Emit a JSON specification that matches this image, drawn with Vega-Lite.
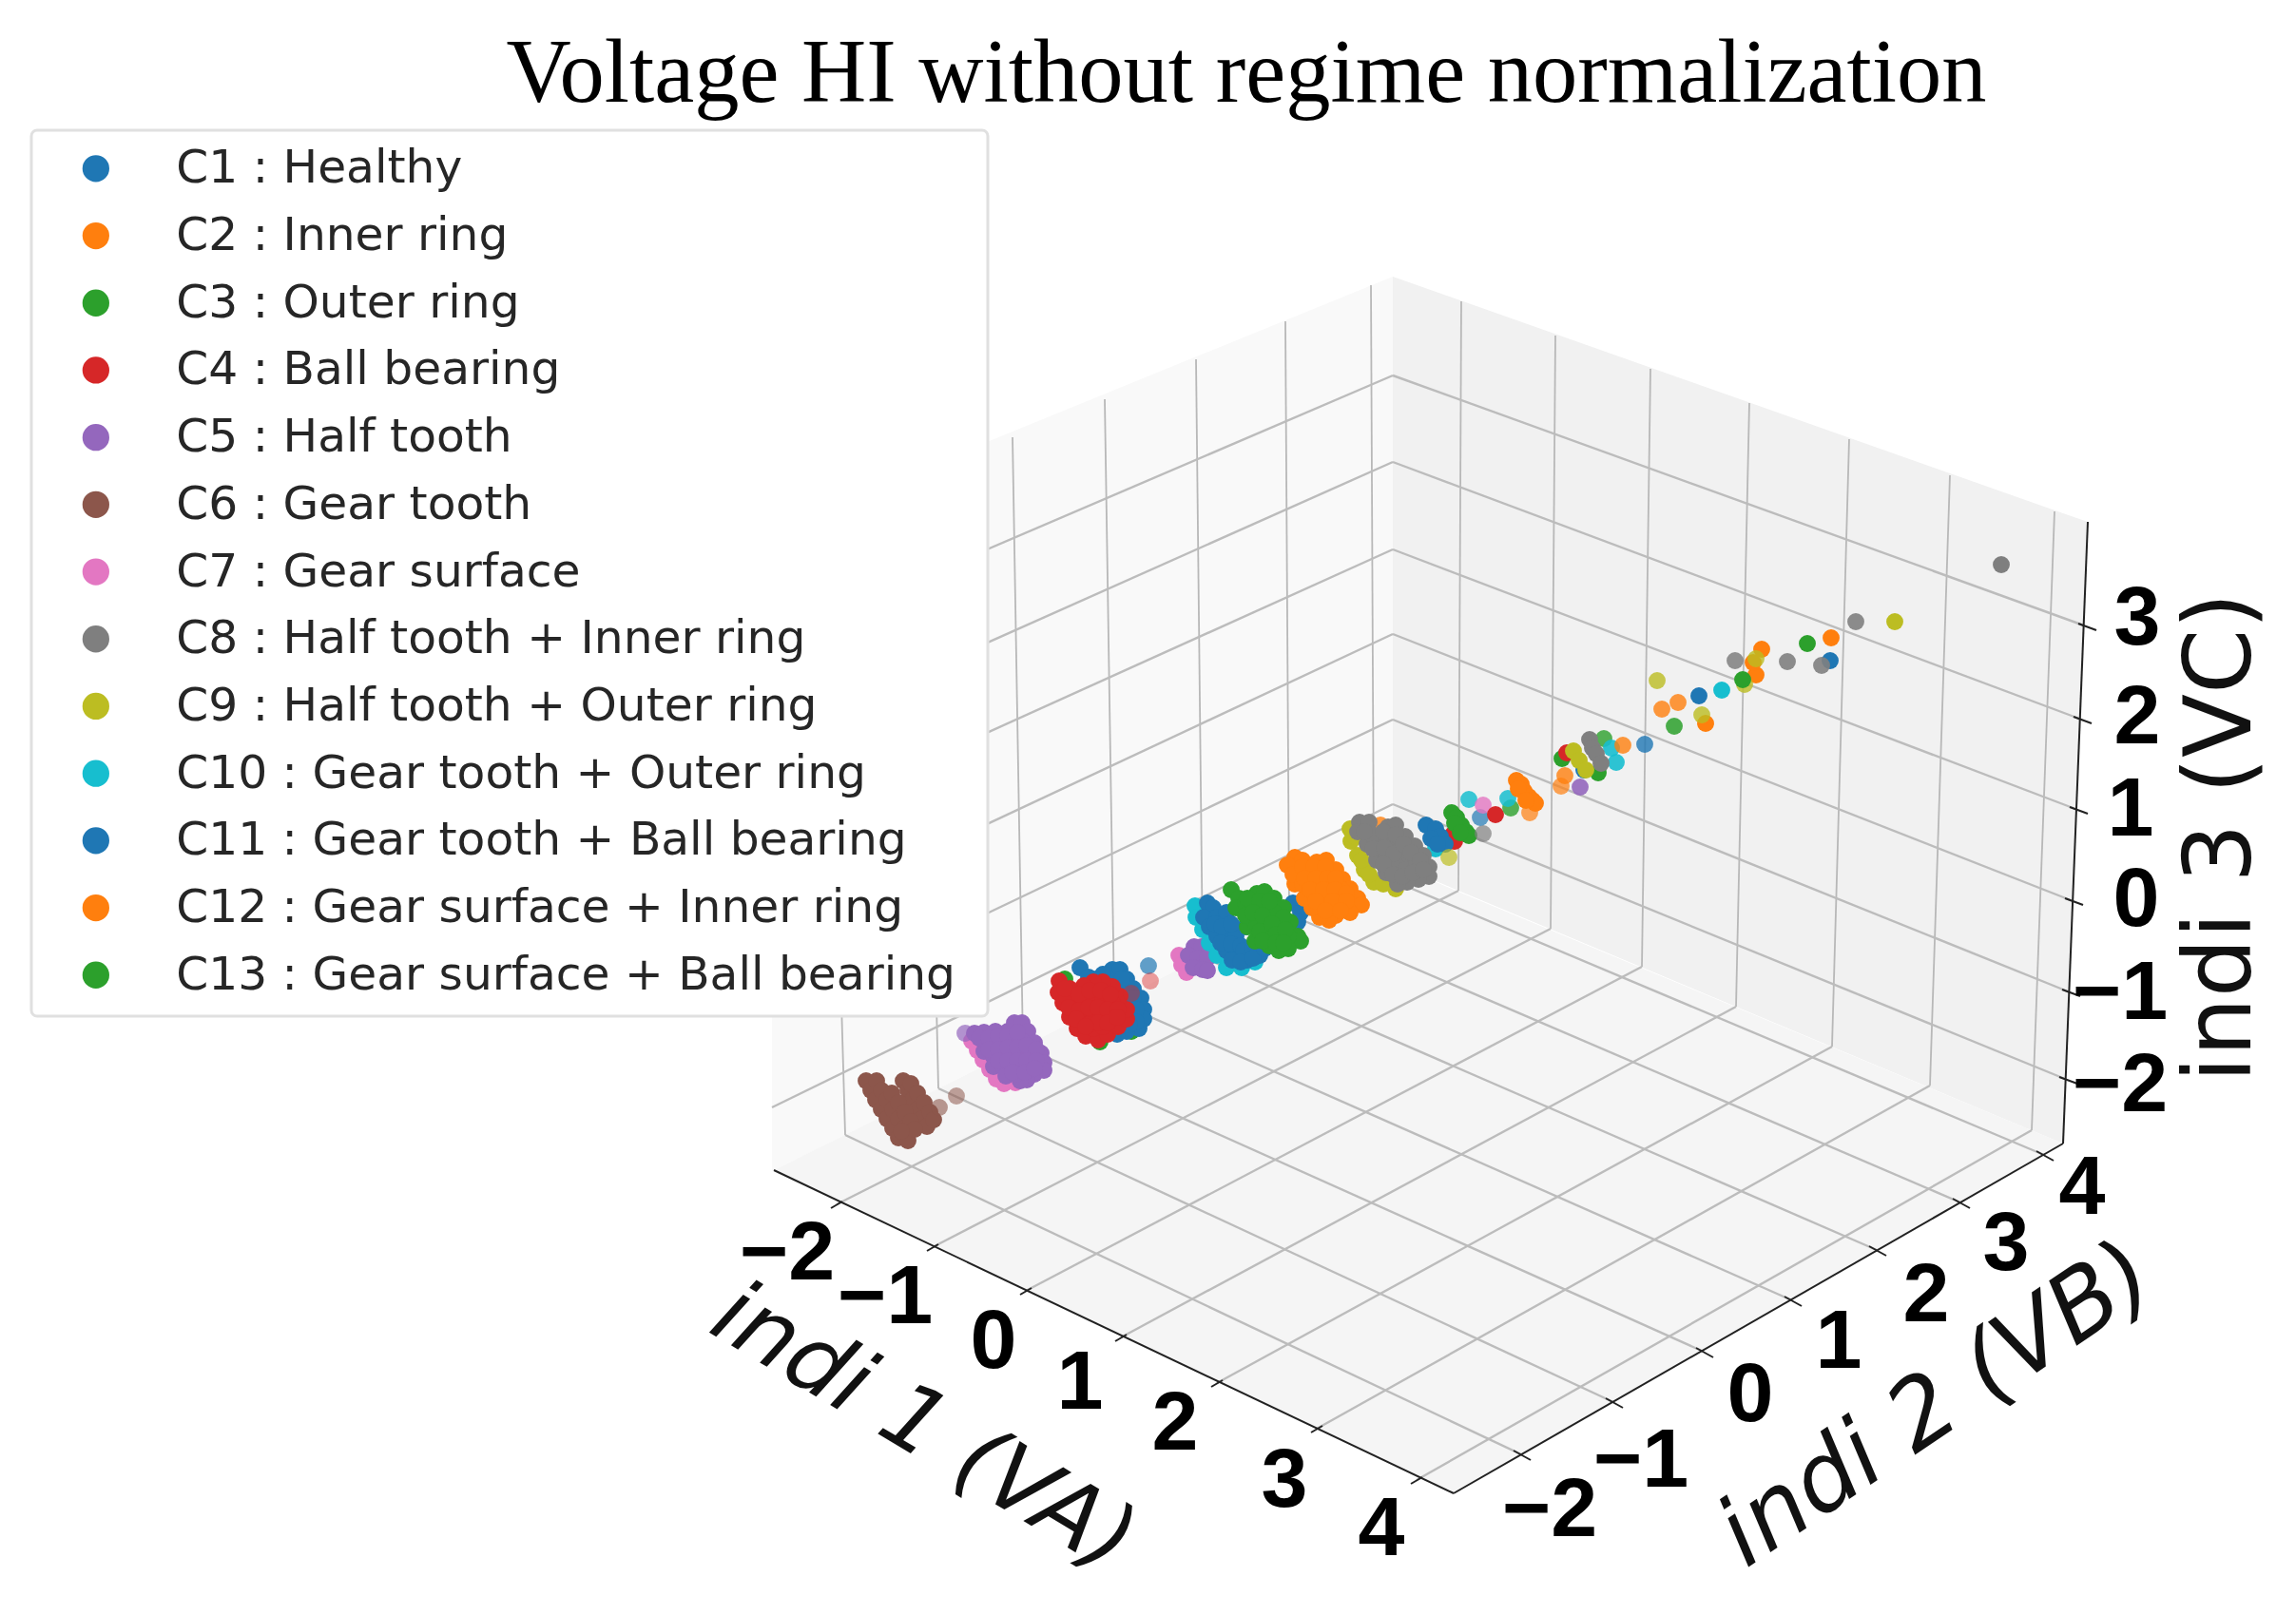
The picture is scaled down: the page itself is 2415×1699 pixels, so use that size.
{"$schema":"https://vega.github.io/schema/vega-lite/v6.json","width":2415,"height":1699,"padding":0,"autosize":{"type":"fit","contains":"padding"},"background":"white",
"config":{"view":{"stroke":null}},
"datasets":{
"classes":[{"c":"C1","name":"C1 : Healthy"},{"c":"C2","name":"C2 : Inner ring"},{"c":"C3","name":"C3 : Outer ring"},{"c":"C4","name":"C4 : Ball bearing"},{"c":"C5","name":"C5 : Half tooth"},{"c":"C6","name":"C6 : Gear tooth"},{"c":"C7","name":"C7 : Gear surface"},{"c":"C8","name":"C8 : Half tooth + Inner ring"},{"c":"C9","name":"C9 : Half tooth + Outer ring"},{"c":"C10","name":"C10 : Gear tooth + Outer ring"},{"c":"C11","name":"C11 : Gear tooth + Ball bearing"},{"c":"C12","name":"C12 : Gear surface + Inner ring"},{"c":"C13","name":"C13 : Gear surface + Ball bearing"}],
"leftWall":[{"u":812,"v":557,"v2":1232},{"u":1465,"v":291,"v2":908}],
"rightWall":[{"u":1465,"v":291,"v2":908},{"u":2170,"v":540,"v2":1203},{"u":2196,"v":549,"v2":549}],
"floor":[{"u":814,"v":1231,"v2":1231},{"u":1465,"v":908,"v2":1540},{"u":1529,"v":936,"v2":1571},{"u":2170,"v":1203,"v2":1203}],
"gridThick":[{"u":812,"v":675,"u2":1465,"v2":395},{"u":1465,"v":395,"u2":2192,"v2":658},{"u":812,"v":777,"u2":1465,"v2":486},{"u":1465,"v":486,"u2":2187,"v2":756},{"u":812,"v":873,"u2":1465,"v2":578},{"u":1465,"v":578,"u2":2183,"v2":851},{"u":812,"v":973,"u2":1465,"v2":667},{"u":1465,"v":667,"u2":2178,"v2":947},{"u":812,"v":1069,"u2":1465,"v2":757},{"u":1465,"v":757,"u2":2175,"v2":1043},{"u":812,"v":1165,"u2":1465,"v2":846},{"u":1465,"v":846,"u2":2172,"v2":1135},
{"u":880,"v":1267,"u2":1534,"v2":937},{"u":981,"v":1312,"u2":1631,"v2":977},{"u":1079,"v":1358,"u2":1727,"v2":1017},{"u":1179,"v":1407,"u2":1826,"v2":1059},{"u":1280,"v":1455,"u2":1927,"v2":1101},{"u":1385,"v":1503,"u2":2030,"v2":1142},{"u":1490,"v":1557,"u2":2137,"v2":1189},
{"u":1600,"v":1530,"u2":889,"v2":1194},{"u":1697,"v":1475,"u2":987,"v2":1145},{"u":1792,"v":1422,"u2":1076,"v2":1101},{"u":1885,"v":1368,"u2":1172,"v2":1053},{"u":1974,"v":1315,"u2":1265,"v2":1007},{"u":2062,"v":1265,"u2":1356,"v2":962},{"u":2150,"v":1215,"u2":1445,"v2":918}],
"gridThin":[{"u":1537,"v":317,"u2":1534,"v2":937},{"u":1636,"v":353,"u2":1631,"v2":977},{"u":1736,"v":388,"u2":1727,"v2":1017},{"u":1840,"v":424,"u2":1826,"v2":1059},{"u":1945,"v":462,"u2":1927,"v2":1101},{"u":2051,"v":500,"u2":2030,"v2":1142},{"u":2161,"v":538,"u2":2137,"v2":1189},
{"u":1442,"v":300,"u2":1445,"v2":918},{"u":1352,"v":338,"u2":1356,"v2":962},{"u":1258,"v":378,"u2":1265,"v2":1007},{"u":1162,"v":420,"u2":1172,"v2":1053},{"u":1065,"v":460,"u2":1076,"v2":1101},{"u":972,"v":491,"u2":987,"v2":1145},{"u":870,"v":532,"u2":889,"v2":1194}],
"axes":[{"u":814,"v":1231,"u2":1529,"v2":1571},{"u":1529,"v":1571,"u2":2170,"v2":1203},{"u":2170,"v":1203,"u2":2196,"v2":549},
{"u":874,"v":1271,"u2":886,"v2":1264},{"u":975,"v":1316,"u2":987,"v2":1309},{"u":1073,"v":1362,"u2":1085,"v2":1355},{"u":1173,"v":1411,"u2":1185,"v2":1404},{"u":1274,"v":1459,"u2":1286,"v2":1452},{"u":1379,"v":1507,"u2":1391,"v2":1500},{"u":1484,"v":1561,"u2":1496,"v2":1554},
{"u":1592,"v":1526,"u2":1610,"v2":1536},{"u":1689,"v":1471,"u2":1707,"v2":1481},{"u":1784,"v":1418,"u2":1802,"v2":1428},{"u":1877,"v":1364,"u2":1895,"v2":1374},{"u":1966,"v":1311,"u2":1984,"v2":1321},{"u":2054,"v":1261,"u2":2072,"v2":1271},{"u":2142,"v":1211,"u2":2160,"v2":1221},
{"u":2186,"v":656,"u2":2205,"v2":663},{"u":2181,"v":754,"u2":2200,"v2":761},{"u":2177,"v":849,"u2":2196,"v2":856},{"u":2172,"v":945,"u2":2191,"v2":952},{"u":2169,"v":1041,"u2":2188,"v2":1048},{"u":2166,"v":1133,"u2":2185,"v2":1140}],
"tickLabels":[{"t":"−2","u":828,"v":1320},{"t":"−1","u":931,"v":1366},{"t":"0","u":1045,"v":1413},{"t":"1","u":1136,"v":1456},{"t":"2","u":1236,"v":1499},{"t":"3","u":1351,"v":1559},{"t":"4","u":1453,"v":1610},
{"t":"−2","u":1630,"v":1590},{"t":"−1","u":1726,"v":1538},{"t":"0","u":1841,"v":1469},{"t":"1","u":1934,"v":1413},{"t":"2","u":2026,"v":1364},{"t":"3","u":2110,"v":1310},{"t":"4","u":2190,"v":1251},
{"t":"3","u":2248,"v":652},{"t":"2","u":2248,"v":756},{"t":"1","u":2241,"v":853},{"t":"0","u":2247,"v":948},{"t":"−1","u":2230,"v":1046},{"t":"−2","u":2230,"v":1143}],
"legendBox":[{"u":33,"v":137,"u2":1039,"v2":1069}],
"points":[
{"u":911,"v":1137,"c":"C6","d":1},{"u":916,"v":1147,"c":"C6","d":1},{"u":921,"v":1157,"c":"C6","d":1},{"u":927,"v":1167,"c":"C6","d":1},{"u":933,"v":1177,"c":"C6","d":1},{"u":939,"v":1187,"c":"C6","d":1},{"u":945,"v":1197,"c":"C6","d":1},{"u":955,"v":1200,"c":"C6","d":1},{"u":922,"v":1137,"c":"C6","d":1},{"u":927,"v":1147,"c":"C6","d":1},{"u":933,"v":1157,"c":"C6","d":1},{"u":939,"v":1167,"c":"C6","d":1},{"u":945,"v":1177,"c":"C6","d":1},{"u":951,"v":1187,"c":"C6","d":1},{"u":950,"v":1137,"c":"C6","d":1},{"u":955,"v":1147,"c":"C6","d":1},{"u":960,"v":1157,"c":"C6","d":1},{"u":965,"v":1167,"c":"C6","d":1},{"u":970,"v":1177,"c":"C6","d":1},{"u":975,"v":1185,"c":"C6","d":1},{"u":958,"v":1140,"c":"C6","d":1},{"u":965,"v":1150,"c":"C6","d":1},{"u":972,"v":1160,"c":"C6","d":1},{"u":978,"v":1170,"c":"C6","d":1},{"u":982,"v":1178,"c":"C6","d":1},{"u":938,"v":1150,"c":"C6","d":1},{"u":945,"v":1160,"c":"C6","d":1},{"u":952,"v":1170,"c":"C6","d":1},{"u":958,"v":1180,"c":"C6","d":1},{"u":962,"v":1188,"c":"C6","d":1},{"u":948,"v":1190,"c":"C6","d":1},{"u":988,"v":1165,"c":"C6","d":0.6},{"u":1006,"v":1153,"c":"C6","d":0.55},
{"u":1022,"v":1095,"c":"C7","d":1},{"u":1028,"v":1105,"c":"C7","d":1},{"u":1034,"v":1115,"c":"C7","d":1},{"u":1041,"v":1125,"c":"C7","d":1},{"u":1048,"v":1135,"c":"C7","d":1},{"u":1056,"v":1140,"c":"C7","d":1},{"u":1068,"v":1139,"c":"C7","d":1},
{"u":1015,"v":1087,"c":"C5","d":0.7},{"u":1025,"v":1087,"c":"C5","d":1},{"u":1035,"v":1086,"c":"C5","d":1},{"u":1047,"v":1085,"c":"C5","d":1},{"u":1060,"v":1085,"c":"C5","d":1},{"u":1067,"v":1076,"c":"C5","d":1},{"u":1075,"v":1076,"c":"C5","d":1},{"u":1081,"v":1085,"c":"C5","d":1},{"u":1088,"v":1097,"c":"C5","d":1},{"u":1095,"v":1108,"c":"C5","d":1},{"u":1098,"v":1118,"c":"C5","d":1},{"u":1098,"v":1126,"c":"C5","d":1},{"u":1088,"v":1130,"c":"C5","d":1},{"u":1080,"v":1136,"c":"C5","d":1},{"u":1073,"v":1137,"c":"C5","d":1},{"u":1035,"v":1096,"c":"C5","d":1},{"u":1045,"v":1100,"c":"C5","d":1},{"u":1055,"v":1095,"c":"C5","d":1},{"u":1065,"v":1095,"c":"C5","d":1},{"u":1075,"v":1095,"c":"C5","d":1},{"u":1035,"v":1106,"c":"C5","d":1},{"u":1045,"v":1112,"c":"C5","d":1},{"u":1055,"v":1108,"c":"C5","d":1},{"u":1065,"v":1108,"c":"C5","d":1},{"u":1075,"v":1108,"c":"C5","d":1},{"u":1085,"v":1110,"c":"C5","d":1},{"u":1045,"v":1122,"c":"C5","d":1},{"u":1055,"v":1122,"c":"C5","d":1},{"u":1065,"v":1122,"c":"C5","d":1},{"u":1075,"v":1122,"c":"C5","d":1},{"u":1085,"v":1120,"c":"C5","d":1},{"u":1058,"v":1132,"c":"C5","d":1},{"u":1070,"v":1130,"c":"C5","d":1},{"u":1030,"v":1092,"c":"C5","d":1},{"u":1040,"v":1092,"c":"C5","d":1},{"u":1050,"v":1090,"c":"C5","d":1},{"u":1060,"v":1090,"c":"C5","d":1},{"u":1070,"v":1086,"c":"C5","d":1},{"u":1040,"v":1104,"c":"C5","d":1},{"u":1050,"v":1104,"c":"C5","d":1},{"u":1060,"v":1102,"c":"C5","d":1},{"u":1070,"v":1102,"c":"C5","d":1},{"u":1080,"v":1100,"c":"C5","d":1},{"u":1090,"v":1104,"c":"C5","d":1},{"u":1050,"v":1116,"c":"C5","d":1},{"u":1060,"v":1116,"c":"C5","d":1},{"u":1070,"v":1116,"c":"C5","d":1},{"u":1080,"v":1116,"c":"C5","d":1},{"u":1090,"v":1116,"c":"C5","d":1},{"u":1065,"v":1128,"c":"C5","d":1},{"u":1078,"v":1128,"c":"C5","d":1},{"u":1088,"v":1124,"c":"C5","d":1},
{"u":1120,"v":1030,"c":"C3","d":1},{"u":1157,"v":1096,"c":"C3","d":1},{"u":1190,"v":1085,"c":"C3","d":1},{"u":1140,"v":1080,"c":"C3","d":1},{"u":1180,"v":1060,"c":"C3","d":1},
{"u":1136,"v":1018,"c":"C1","d":1},{"u":1145,"v":1028,"c":"C1","d":1},{"u":1170,"v":1020,"c":"C1","d":1},{"u":1178,"v":1020,"c":"C1","d":1},{"u":1185,"v":1030,"c":"C1","d":1},{"u":1192,"v":1040,"c":"C1","d":1},{"u":1200,"v":1050,"c":"C1","d":1},{"u":1203,"v":1062,"c":"C1","d":1},{"u":1203,"v":1072,"c":"C1","d":1},{"u":1198,"v":1082,"c":"C1","d":1},{"u":1185,"v":1085,"c":"C1","d":1},{"u":1175,"v":1088,"c":"C1","d":1},{"u":1165,"v":1030,"c":"C1","d":1},{"u":1155,"v":1035,"c":"C1","d":1},{"u":1175,"v":1040,"c":"C1","d":1},{"u":1185,"v":1055,"c":"C1","d":1},{"u":1190,"v":1070,"c":"C1","d":1},{"u":1170,"v":1060,"c":"C1","d":1},{"u":1192,"v":1050,"c":"C1","d":1},{"u":1195,"v":1062,"c":"C1","d":1},{"u":1195,"v":1075,"c":"C1","d":1},{"u":1188,"v":1078,"c":"C1","d":1},{"u":1180,"v":1030,"c":"C1","d":1},{"u":1160,"v":1025,"c":"C1","d":1},{"u":1150,"v":1030,"c":"C1","d":1},
{"u":1114,"v":1032,"c":"C4","d":1},{"u":1113,"v":1044,"c":"C4","d":1},{"u":1118,"v":1055,"c":"C4","d":1},{"u":1125,"v":1070,"c":"C4","d":1},{"u":1133,"v":1082,"c":"C4","d":1},{"u":1142,"v":1090,"c":"C4","d":1},{"u":1155,"v":1094,"c":"C4","d":1},{"u":1165,"v":1088,"c":"C4","d":1},{"u":1176,"v":1080,"c":"C4","d":1},{"u":1185,"v":1072,"c":"C4","d":1},{"u":1185,"v":1062,"c":"C4","d":1},{"u":1178,"v":1048,"c":"C4","d":1},{"u":1170,"v":1038,"c":"C4","d":1},{"u":1160,"v":1033,"c":"C4","d":1},{"u":1150,"v":1033,"c":"C4","d":1},{"u":1140,"v":1037,"c":"C4","d":1},{"u":1130,"v":1045,"c":"C4","d":1},{"u":1125,"v":1040,"c":"C4","d":1},{"u":1130,"v":1060,"c":"C4","d":1},{"u":1140,"v":1055,"c":"C4","d":1},{"u":1150,"v":1050,"c":"C4","d":1},{"u":1160,"v":1050,"c":"C4","d":1},{"u":1170,"v":1055,"c":"C4","d":1},{"u":1140,"v":1070,"c":"C4","d":1},{"u":1150,"v":1070,"c":"C4","d":1},{"u":1160,"v":1070,"c":"C4","d":1},{"u":1170,"v":1070,"c":"C4","d":1},{"u":1150,"v":1082,"c":"C4","d":1},{"u":1160,"v":1080,"c":"C4","d":1},{"u":1122,"v":1048,"c":"C4","d":1},{"u":1120,"v":1040,"c":"C4","d":1},{"u":1135,"v":1046,"c":"C4","d":1},{"u":1146,"v":1042,"c":"C4","d":1},{"u":1158,"v":1042,"c":"C4","d":1},{"u":1168,"v":1046,"c":"C4","d":1},{"u":1124,"v":1060,"c":"C4","d":1},{"u":1135,"v":1063,"c":"C4","d":1},{"u":1145,"v":1060,"c":"C4","d":1},{"u":1155,"v":1060,"c":"C4","d":1},{"u":1165,"v":1062,"c":"C4","d":1},{"u":1176,"v":1062,"c":"C4","d":1},{"u":1132,"v":1072,"c":"C4","d":1},{"u":1145,"v":1078,"c":"C4","d":1},{"u":1155,"v":1076,"c":"C4","d":1},{"u":1165,"v":1076,"c":"C4","d":1},{"u":1142,"v":1080,"c":"C4","d":1},{"u":1175,"v":1070,"c":"C4","d":1},{"u":1190,"v":1045,"c":"C4","d":0.45},{"u":1208,"v":1016,"c":"C1","d":0.7},{"u":1210,"v":1032,"c":"C4","d":0.45},
{"u":1240,"v":1005,"c":"C7","d":1},{"u":1243,"v":1015,"c":"C7","d":1},{"u":1248,"v":1023,"c":"C7","d":1},{"u":1256,"v":996,"c":"C5","d":1},{"u":1264,"v":996,"c":"C5","d":1},{"u":1250,"v":1005,"c":"C5","d":1},{"u":1260,"v":1008,"c":"C5","d":1},{"u":1270,"v":1008,"c":"C5","d":1},{"u":1255,"v":1018,"c":"C5","d":1},{"u":1265,"v":1020,"c":"C5","d":1},{"u":1270,"v":1021,"c":"C5","d":1},
{"u":1257,"v":953,"c":"C10","d":1},{"u":1258,"v":965,"c":"C10","d":1},{"u":1265,"v":978,"c":"C10","d":1},{"u":1272,"v":992,"c":"C10","d":1},{"u":1280,"v":1005,"c":"C10","d":1},{"u":1290,"v":1018,"c":"C10","d":1},{"u":1306,"v":1018,"c":"C10","d":1},{"u":1320,"v":1012,"c":"C10","d":1},
{"u":1270,"v":950,"c":"C11","d":1},{"u":1276,"v":955,"c":"C11","d":1},{"u":1266,"v":965,"c":"C11","d":1},{"u":1272,"v":975,"c":"C11","d":1},{"u":1280,"v":965,"c":"C11","d":1},{"u":1290,"v":960,"c":"C11","d":1},{"u":1280,"v":985,"c":"C11","d":1},{"u":1290,"v":985,"c":"C11","d":1},{"u":1300,"v":985,"c":"C11","d":1},{"u":1290,"v":1000,"c":"C11","d":1},{"u":1300,"v":1005,"c":"C11","d":1},{"u":1312,"v":1010,"c":"C11","d":1},{"u":1325,"v":1005,"c":"C11","d":1},{"u":1325,"v":990,"c":"C11","d":1},{"u":1310,"v":975,"c":"C11","d":1},{"u":1360,"v":950,"c":"C11","d":1},{"u":1368,"v":960,"c":"C11","d":1},{"u":1365,"v":970,"c":"C11","d":1},{"u":1278,"v":972,"c":"C11","d":1},{"u":1285,"v":975,"c":"C11","d":1},{"u":1295,"v":972,"c":"C11","d":1},{"u":1284,"v":992,"c":"C11","d":1},{"u":1295,"v":993,"c":"C11","d":1},{"u":1305,"v":995,"c":"C11","d":1},{"u":1296,"v":1010,"c":"C11","d":1},{"u":1308,"v":1000,"c":"C11","d":1},{"u":1318,"v":998,"c":"C11","d":1},{"u":1305,"v":1012,"c":"C11","d":1},{"u":1318,"v":1008,"c":"C11","d":1},{"u":1330,"v":998,"c":"C11","d":1},
{"u":1295,"v":936,"c":"C13","d":1},{"u":1303,"v":945,"c":"C13","d":1},{"u":1322,"v":940,"c":"C13","d":1},{"u":1330,"v":938,"c":"C13","d":1},{"u":1340,"v":945,"c":"C13","d":1},{"u":1350,"v":955,"c":"C13","d":1},{"u":1357,"v":970,"c":"C13","d":1},{"u":1365,"v":985,"c":"C13","d":1},{"u":1368,"v":990,"c":"C13","d":1},{"u":1355,"v":998,"c":"C13","d":1},{"u":1345,"v":1000,"c":"C13","d":1},{"u":1335,"v":995,"c":"C13","d":1},{"u":1320,"v":990,"c":"C13","d":1},{"u":1312,"v":975,"c":"C13","d":1},{"u":1300,"v":955,"c":"C13","d":1},{"u":1310,"v":950,"c":"C13","d":1},{"u":1320,"v":955,"c":"C13","d":1},{"u":1330,"v":955,"c":"C13","d":1},{"u":1340,"v":960,"c":"C13","d":1},{"u":1320,"v":970,"c":"C13","d":1},{"u":1330,"v":975,"c":"C13","d":1},{"u":1345,"v":975,"c":"C13","d":1},{"u":1335,"v":985,"c":"C13","d":1},{"u":1355,"v":985,"c":"C13","d":1},{"u":1310,"v":963,"c":"C13","d":1},{"u":1312,"v":945,"c":"C13","d":1},{"u":1325,"v":948,"c":"C13","d":1},{"u":1335,"v":948,"c":"C13","d":1},{"u":1318,"v":960,"c":"C13","d":1},{"u":1328,"v":963,"c":"C13","d":1},{"u":1350,"v":965,"c":"C13","d":1},{"u":1325,"v":980,"c":"C13","d":1},{"u":1338,"v":972,"c":"C13","d":1},{"u":1342,"v":983,"c":"C13","d":1},{"u":1352,"v":978,"c":"C13","d":1},{"u":1328,"v":990,"c":"C13","d":1},{"u":1342,"v":992,"c":"C13","d":1},{"u":1350,"v":992,"c":"C13","d":1},
{"u":1362,"v":902,"c":"C12","d":1},{"u":1370,"v":905,"c":"C12","d":1},{"u":1354,"v":910,"c":"C12","d":1},{"u":1385,"v":907,"c":"C12","d":1},{"u":1395,"v":905,"c":"C12","d":1},{"u":1405,"v":915,"c":"C12","d":1},{"u":1412,"v":925,"c":"C12","d":1},{"u":1420,"v":935,"c":"C12","d":1},{"u":1428,"v":945,"c":"C12","d":1},{"u":1432,"v":952,"c":"C12","d":1},{"u":1420,"v":960,"c":"C12","d":1},{"u":1405,"v":963,"c":"C12","d":1},{"u":1398,"v":968,"c":"C12","d":1},{"u":1388,"v":965,"c":"C12","d":1},{"u":1380,"v":955,"c":"C12","d":1},{"u":1372,"v":945,"c":"C12","d":1},{"u":1362,"v":930,"c":"C12","d":1},{"u":1360,"v":920,"c":"C12","d":1},{"u":1375,"v":920,"c":"C12","d":1},{"u":1390,"v":920,"c":"C12","d":1},{"u":1400,"v":930,"c":"C12","d":1},{"u":1385,"v":935,"c":"C12","d":1},{"u":1395,"v":945,"c":"C12","d":1},{"u":1410,"v":945,"c":"C12","d":1},{"u":1410,"v":935,"c":"C12","d":1},{"u":1370,"v":930,"c":"C12","d":1},{"u":1370,"v":912,"c":"C12","d":1},{"u":1382,"v":912,"c":"C12","d":1},{"u":1394,"v":912,"c":"C12","d":1},{"u":1372,"v":924,"c":"C12","d":1},{"u":1384,"v":924,"c":"C12","d":1},{"u":1396,"v":924,"c":"C12","d":1},{"u":1405,"v":924,"c":"C12","d":1},{"u":1378,"v":936,"c":"C12","d":1},{"u":1392,"v":936,"c":"C12","d":1},{"u":1404,"v":936,"c":"C12","d":1},{"u":1416,"v":940,"c":"C12","d":1},{"u":1384,"v":948,"c":"C12","d":1},{"u":1402,"v":948,"c":"C12","d":1},{"u":1416,"v":948,"c":"C12","d":1},{"u":1394,"v":958,"c":"C12","d":1},{"u":1410,"v":958,"c":"C12","d":1},
{"u":1510,"v":893,"c":"C10","d":1},{"u":1528,"v":878,"c":"C4","d":1},{"u":1530,"v":885,"c":"C4","d":1},{"u":1500,"v":868,"c":"C1","d":1},{"u":1510,"v":872,"c":"C1","d":1},{"u":1515,"v":880,"c":"C1","d":1},{"u":1520,"v":888,"c":"C1","d":1},{"u":1505,"v":882,"c":"C1","d":1},{"u":1512,"v":888,"c":"C1","d":1},
{"u":1420,"v":872,"c":"C9","d":1},{"u":1421,"v":885,"c":"C9","d":1},{"u":1428,"v":900,"c":"C9","d":1},{"u":1435,"v":915,"c":"C9","d":1},{"u":1445,"v":928,"c":"C9","d":1},{"u":1468,"v":935,"c":"C9","d":1},{"u":1478,"v":925,"c":"C9","d":1},{"u":1488,"v":915,"c":"C9","d":1},{"u":1425,"v":880,"c":"C9","d":1},{"u":1432,"v":905,"c":"C9","d":1},{"u":1440,"v":920,"c":"C9","d":1},{"u":1455,"v":930,"c":"C9","d":1},{"u":1452,"v":868,"c":"C2","d":0.8},
{"u":1430,"v":865,"c":"C8","d":1},{"u":1440,"v":865,"c":"C8","d":1},{"u":1428,"v":875,"c":"C8","d":1},{"u":1449,"v":880,"c":"C8","d":1},{"u":1460,"v":870,"c":"C8","d":1},{"u":1468,"v":868,"c":"C8","d":1},{"u":1478,"v":880,"c":"C8","d":1},{"u":1488,"v":890,"c":"C8","d":1},{"u":1497,"v":900,"c":"C8","d":1},{"u":1503,"v":912,"c":"C8","d":1},{"u":1503,"v":922,"c":"C8","d":1},{"u":1492,"v":925,"c":"C8","d":1},{"u":1480,"v":928,"c":"C8","d":1},{"u":1470,"v":930,"c":"C8","d":1},{"u":1458,"v":918,"c":"C8","d":1},{"u":1448,"v":905,"c":"C8","d":1},{"u":1438,"v":888,"c":"C8","d":1},{"u":1450,"v":892,"c":"C8","d":1},{"u":1462,"v":885,"c":"C8","d":1},{"u":1472,"v":895,"c":"C8","d":1},{"u":1482,"v":905,"c":"C8","d":1},{"u":1468,"v":910,"c":"C8","d":1},{"u":1478,"v":915,"c":"C8","d":1},{"u":1490,"v":910,"c":"C8","d":1},{"u":1458,"v":900,"c":"C8","d":1},{"u":1443,"v":878,"c":"C8","d":1},{"u":1435,"v":875,"c":"C8","d":1},{"u":1455,"v":875,"c":"C8","d":1},{"u":1444,"v":893,"c":"C8","d":1},{"u":1456,"v":892,"c":"C8","d":1},{"u":1468,"v":878,"c":"C8","d":1},{"u":1466,"v":898,"c":"C8","d":1},{"u":1476,"v":888,"c":"C8","d":1},{"u":1484,"v":897,"c":"C8","d":1},{"u":1494,"v":905,"c":"C8","d":1},{"u":1455,"v":909,"c":"C8","d":1},{"u":1465,"v":920,"c":"C8","d":1},{"u":1475,"v":922,"c":"C8","d":1},{"u":1486,"v":918,"c":"C8","d":1},{"u":1497,"v":915,"c":"C8","d":1},
{"u":1527,"v":855,"c":"C3","d":1},{"u":1532,"v":860,"c":"C3","d":1},{"u":1537,"v":868,"c":"C3","d":1},{"u":1542,"v":875,"c":"C3","d":1},{"u":1545,"v":879,"c":"C3","d":1},{"u":1530,"v":866,"c":"C3","d":1},{"u":1536,"v":876,"c":"C3","d":1},
{"u":1560,"v":877,"c":"C8","d":0.7},{"u":1524,"v":902,"c":"C9","d":0.7},{"u":1557,"v":860,"c":"C1","d":0.7},{"u":1545,"v":841,"c":"C10","d":0.85},{"u":1560,"v":847,"c":"C7","d":0.8},{"u":1573,"v":857,"c":"C4","d":1},{"u":1589,"v":850,"c":"C3","d":0.8},{"u":1586,"v":840,"c":"C10","d":0.85},
{"u":1609,"v":855,"c":"C2","d":0.7},{"u":1595,"v":821,"c":"C12","d":1},{"u":1600,"v":825,"c":"C12","d":1},{"u":1603,"v":832,"c":"C12","d":1},{"u":1608,"v":838,"c":"C12","d":1},{"u":1612,"v":842,"c":"C12","d":1},{"u":1615,"v":845,"c":"C12","d":1},{"u":1597,"v":830,"c":"C12","d":1},{"u":1605,"v":842,"c":"C12","d":1},
{"u":1642,"v":827,"c":"C2","d":0.7},{"u":1646,"v":816,"c":"C2","d":0.8},{"u":1662,"v":828,"c":"C5","d":0.9},
{"u":1643,"v":798,"c":"C3","d":1},{"u":1648,"v":792,"c":"C4","d":1},{"u":1687,"v":777,"c":"C3","d":0.8},{"u":1700,"v":802,"c":"C10","d":0.9},{"u":1695,"v":787,"c":"C10","d":0.9},{"u":1681,"v":813,"c":"C3","d":1},{"u":1666,"v":810,"c":"C1","d":1},{"u":1655,"v":790,"c":"C9","d":1},{"u":1661,"v":800,"c":"C9","d":1},{"u":1668,"v":810,"c":"C9","d":1},{"u":1672,"v":778,"c":"C8","d":1},{"u":1675,"v":787,"c":"C8","d":1},{"u":1679,"v":793,"c":"C8","d":1},{"u":1684,"v":803,"c":"C8","d":1},
{"u":1707,"v":784,"c":"C2","d":0.8},{"u":1730,"v":783,"c":"C1","d":0.8},{"u":1743,"v":716,"c":"C9","d":0.8},{"u":1748,"v":746,"c":"C2","d":0.8},{"u":1765,"v":739,"c":"C2","d":0.8},{"u":1787,"v":732,"c":"C1","d":1},{"u":1811,"v":726,"c":"C10","d":1},{"u":1761,"v":764,"c":"C3","d":0.85},{"u":1794,"v":761,"c":"C2","d":1},{"u":1790,"v":752,"c":"C9","d":0.8},{"u":1825,"v":695,"c":"C8","d":0.85},{"u":1853,"v":683,"c":"C2","d":1},{"u":1847,"v":710,"c":"C2","d":1},{"u":1844,"v":697,"c":"C2","d":1},{"u":1847,"v":693,"c":"C9","d":0.8},{"u":1835,"v":720,"c":"C9","d":0.8},{"u":1833,"v":715,"c":"C3","d":1},{"u":1880,"v":696,"c":"C8","d":0.9},{"u":1925,"v":695,"c":"C1","d":1},{"u":1916,"v":700,"c":"C8","d":0.9},{"u":1901,"v":677,"c":"C3","d":1},{"u":1926,"v":671,"c":"C2","d":1},{"u":1952,"v":654,"c":"C8","d":0.9},{"u":1993,"v":654,"c":"C9","d":1},{"u":2105,"v":594,"c":"C8","d":1}
]},
"encoding":{"x":{"field":"u","type":"quantitative","scale":{"domain":[0,2415],"nice":false,"zero":false},"axis":null},"y":{"field":"v","type":"quantitative","scale":{"domain":[1699,0],"nice":false,"zero":false},"axis":null}},
"layer":[
{"data":{"name":"leftWall"},"mark":{"type":"area","color":"#f9f9f9"},"encoding":{"y2":{"field":"v2"}}},
{"data":{"name":"rightWall"},"mark":{"type":"area","color":"#f1f1f1"},"encoding":{"y2":{"field":"v2"}}},
{"data":{"name":"floor"},"mark":{"type":"area","color":"#f5f5f5"},"encoding":{"y2":{"field":"v2"}}},
{"data":{"name":"gridThin"},"mark":{"type":"rule","color":"#b8b8b8","strokeWidth":1.8},"encoding":{"x2":{"field":"u2"},"y2":{"field":"v2"}}},
{"data":{"name":"gridThick"},"mark":{"type":"rule","color":"#bcbcbc","strokeWidth":2.4},"encoding":{"x2":{"field":"u2"},"y2":{"field":"v2"}}},
{"data":{"name":"axes"},"mark":{"type":"rule","color":"#222222","strokeWidth":2},"encoding":{"x2":{"field":"u2"},"y2":{"field":"v2"}}},
{"data":{"name":"points"},"transform":[{"lookup":"c","from":{"data":{"name":"classes"},"key":"c","fields":["name"]}}],"mark":{"type":"point","filled":true,"shape":"circle","size":320,"strokeWidth":0},
"encoding":{"opacity":{"field":"d","type":"quantitative","scale":{"domain":[0,1],"range":[0,1]},"legend":null},
"color":{"field":"name","type":"nominal","scale":{"domain":["C1 : Healthy","C2 : Inner ring","C3 : Outer ring","C4 : Ball bearing","C5 : Half tooth","C6 : Gear tooth","C7 : Gear surface","C8 : Half tooth + Inner ring","C9 : Half tooth + Outer ring","C10 : Gear tooth + Outer ring","C11 : Gear tooth + Ball bearing","C12 : Gear surface + Inner ring","C13 : Gear surface + Ball bearing"],"range":["#1f77b4","#ff7f0e","#2ca02c","#d62728","#9467bd","#8c564b","#e377c2","#7f7f7f","#bcbd22","#17becf","#1f77b4","#ff7f0e","#2ca02c"]},
"legend":{"title":null,"orient":"none","legendX":31.5,"legendY":135,"zindex":1,"padding":18,"symbolType":"circle","symbolSize":800,"symbolOpacity":1,"symbolOffset":27,"symbolStrokeWidth":0,"labelFont":"DejaVu Sans","labelFontSize":48.7,"labelColor":"#262626","labelOffset":60,"rowPadding":20.7,"labelLimit":1000}}}},
{"data":{"name":"legendBox"},"mark":{"type":"rect","fill":"white","stroke":"#e0e0e0","strokeWidth":3,"cornerRadius":6},"encoding":{"x2":{"field":"u2"},"y2":{"field":"v2"}}},
{"data":{"name":"tickLabels"},"mark":{"type":"text","font":"Liberation Sans","fontWeight":"bold","fontSize":88,"align":"center","baseline":"middle","color":"black"},"encoding":{"text":{"field":"t"}}},
{"data":{"values":[{"t":"indi 1 (VA)","u":971,"v":1503}]},"mark":{"type":"text","font":"DejaVu Sans","fontStyle":"italic","fontSize":96,"angle":31,"align":"center","baseline":"middle","color":"#111111"},"encoding":{"text":{"field":"t"}}},
{"data":{"values":[{"t":"indi 2 (VB)","u":2037,"v":1479}]},"mark":{"type":"text","font":"DejaVu Sans","fontStyle":"italic","fontSize":100,"angle":-34,"align":"center","baseline":"middle","color":"#111111"},"encoding":{"text":{"field":"t"}}},
{"data":{"values":[{"t":"indi 3 (VC)","u":2338,"v":881}]},"mark":{"type":"text","font":"DejaVu Sans","fontSize":98,"angle":-90,"align":"center","baseline":"middle","color":"#111111"},"encoding":{"text":{"field":"t"}}},
{"data":{"values":[{"t":"Voltage HI without regime normalization","u":1311,"v":79}]},"mark":{"type":"text","font":"Liberation Serif","fontSize":94.5,"align":"center","baseline":"middle","color":"black"},"encoding":{"text":{"field":"t"}}}
]}
